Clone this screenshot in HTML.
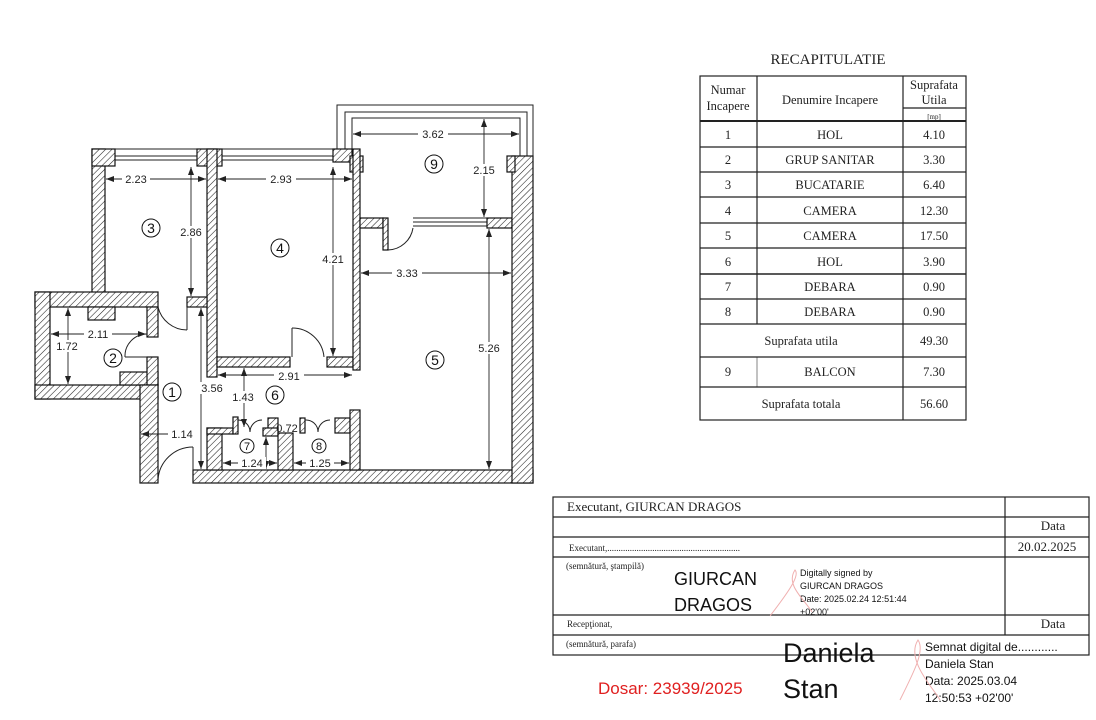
<!DOCTYPE html>
<html><head><meta charset="utf-8"><style>
html,body{margin:0;padding:0;background:#fff;}
svg{display:block;}
.d{font-family:"Liberation Sans",sans-serif;font-size:11px;fill:#222;}
.s{font-family:"Liberation Serif",serif;fill:#222;}
.n{font-family:"Liberation Sans",sans-serif;font-size:14px;fill:#111;}
.ds{font-family:"Liberation Sans",sans-serif;fill:#111;}
</style></head><body>
<svg width="1096" height="720" viewBox="0 0 1096 720" xmlns="http://www.w3.org/2000/svg">
<defs>
<pattern id="h" width="4.5" height="4.5" patternUnits="userSpaceOnUse" patternTransform="rotate(45)">
<rect width="4.5" height="4.5" fill="#fff"/><line x1="0" y1="0" x2="0" y2="4.5" stroke="#222" stroke-width="1.1"/>
</pattern>
<marker id="a" markerWidth="8" markerHeight="6" refX="8" refY="3" orient="auto-start-reverse" markerUnits="userSpaceOnUse"><path d="M0,0 L8,3 L0,6z" fill="#222"/></marker>
</defs>
<rect width="1096" height="720" fill="#fff"/>

<g stroke="#222" stroke-width="1" fill="none">
<line x1="115" y1="149" x2="197" y2="149"/><line x1="115" y1="156" x2="197" y2="156"/><line x1="115" y1="160" x2="197" y2="160"/>
<line x1="222" y1="149" x2="333" y2="149"/><line x1="222" y1="156" x2="333" y2="156"/><line x1="222" y1="160" x2="333" y2="160"/>
<polyline points="337,149 337,105 533,105 533,156"/>
<polyline points="345,149 345,112 527,112 527,156"/>
<polyline points="352,156 352,118 520,118 520,156"/>
<line x1="413" y1="218" x2="487" y2="218"/><line x1="413" y1="222" x2="487" y2="222"/><line x1="413" y1="226" x2="487" y2="226"/>
</g>

<g fill="url(#h)" stroke="#111" stroke-width="1.2">
<rect x="92" y="149" width="13" height="150"/>
<rect x="92" y="149" width="23" height="17"/>
<rect x="197" y="149" width="25" height="17"/>
<rect x="207" y="149" width="10" height="228"/>
<rect x="187" y="297" width="20" height="10"/>
<rect x="35" y="292" width="123" height="15"/>
<rect x="88" y="307" width="27" height="13"/>
<rect x="147" y="307" width="11" height="30"/>
<rect x="35" y="292" width="15" height="107"/>
<rect x="35" y="385" width="123" height="14"/>
<rect x="120" y="372" width="38" height="13"/>
<rect x="147" y="357" width="11" height="28"/>
<rect x="140" y="385" width="18" height="98"/>
<rect x="193" y="470" width="340" height="13"/>
<rect x="217" y="357" width="73" height="10"/>
<rect x="327" y="357" width="26" height="10"/>
<rect x="333" y="149" width="19" height="13"/>
<rect x="350" y="156" width="13" height="16"/>
<rect x="353" y="149" width="7" height="221"/>
<rect x="360" y="218" width="23" height="10"/>
<rect x="383" y="218" width="5" height="32"/>
<rect x="487" y="218" width="25" height="10"/>
<rect x="512" y="156" width="21" height="327"/>
<rect x="507" y="156" width="8" height="16"/>
<rect x="207" y="428" width="15" height="42"/>
<rect x="207" y="428" width="26" height="6"/>
<rect x="233" y="417" width="5" height="17"/>
<rect x="268" y="418" width="10" height="15"/>
<rect x="263" y="428" width="15" height="8"/>
<rect x="278" y="433" width="15" height="37"/>
<rect x="300" y="418" width="5" height="15"/>
<rect x="335" y="418" width="15" height="15"/>
<rect x="350" y="410" width="10" height="60"/>
</g>

<g stroke="#222" stroke-width="1" fill="none">
<line x1="187" y1="307" x2="187" y2="330"/><path d="M187,330 A30,30 0 0 1 158,307"/>
<path d="M147,334 A22,22 0 0 0 125,357"/><line x1="125" y1="357" x2="147" y2="357"/>
<line x1="292" y1="328" x2="292" y2="357"/><path d="M292,328 A32,32 0 0 1 324,357"/>
<line x1="193" y1="447" x2="193" y2="470"/><path d="M193,447 A35,35 0 0 0 158,480"/>
<path d="M388,250 A26,26 0 0 0 413,228"/>
<path d="M238,420 A12,12 0 0 1 250,432 M262,420 A12,12 0 0 0 250,432"/>
<path d="M305,420 A12,12 0 0 1 318,432 M330,420 A12,12 0 0 0 318,432"/>
</g>

<g stroke="#222" stroke-width="0.9" marker-start="url(#a)" marker-end="url(#a)">
<line x1="106" y1="179" x2="206" y2="179"/>
<line x1="218" y1="179" x2="352" y2="179"/>
<line x1="191" y1="167" x2="191" y2="296"/>
<line x1="333" y1="167" x2="333" y2="356"/>
<line x1="353" y1="134" x2="519" y2="134"/>
<line x1="484" y1="119" x2="484" y2="217"/>
<line x1="361" y1="273" x2="511" y2="273"/>
<line x1="489" y1="229" x2="489" y2="469"/>
<line x1="51" y1="334" x2="146" y2="334"/>
<line x1="68" y1="308" x2="68" y2="384"/>
<line x1="218" y1="375" x2="352" y2="375"/>
<line x1="244" y1="368" x2="244" y2="427"/>
<line x1="201" y1="308" x2="201" y2="469"/>
<line x1="141" y1="434" x2="192" y2="434"/>
<line x1="223" y1="463" x2="277" y2="463"/>
<line x1="294" y1="463" x2="349" y2="463"/>
<line x1="266" y1="437" x2="266" y2="469"/>
</g>
<g class="d" text-anchor="middle">
<rect x="122" y="173" width="28" height="12" fill="#fff"/><text x="136" y="183">2.23</text>
<rect x="266" y="173" width="30" height="12" fill="#fff"/><text x="281" y="183">2.93</text>
<rect x="177" y="226" width="28" height="12" fill="#fff"/><text x="191" y="236">2.86</text>
<rect x="319" y="253" width="28" height="12" fill="#fff"/><text x="333" y="263">4.21</text>
<rect x="418" y="128" width="30" height="12" fill="#fff"/><text x="433" y="138">3.62</text>
<rect x="470" y="164" width="28" height="12" fill="#fff"/><text x="484" y="174">2.15</text>
<rect x="392" y="267" width="30" height="12" fill="#fff"/><text x="407" y="277">3.33</text>
<rect x="475" y="342" width="28" height="12" fill="#fff"/><text x="489" y="352">5.26</text>
<rect x="84" y="328" width="28" height="12" fill="#fff"/><text x="98" y="338">2.11</text>
<rect x="54" y="340" width="28" height="12" fill="#fff"/><text x="67" y="350">1.72</text>
<rect x="274" y="370" width="30" height="12" fill="#fff"/><text x="289" y="380">2.91</text>
<rect x="230" y="391" width="28" height="12" fill="#fff"/><text x="243" y="401">1.43</text>
<rect x="198" y="382" width="28" height="12" fill="#fff"/><text x="212" y="392">3.56</text>
<rect x="168" y="428" width="28" height="12" fill="#fff"/><text x="182" y="438">1.14</text>
<text x="287" y="432">0.72</text>
<rect x="238" y="457" width="28" height="12" fill="#fff"/><text x="252" y="467">1.24</text>
<rect x="306" y="457" width="28" height="12" fill="#fff"/><text x="320" y="467">1.25</text>
</g>

<g stroke="#111" stroke-width="1" fill="none">
<circle cx="151" cy="228" r="9"/><circle cx="280" cy="248" r="9"/><circle cx="434" cy="164" r="9"/>
<circle cx="435" cy="360" r="9"/><circle cx="113" cy="358" r="9"/><circle cx="172" cy="392" r="9"/>
<circle cx="275" cy="395" r="9"/><circle cx="247" cy="446" r="7"/><circle cx="319" cy="446" r="7"/>
</g>
<g class="n" text-anchor="middle">
<text x="151" y="233">3</text><text x="280" y="253">4</text><text x="434" y="169">9</text>
<text x="435" y="365">5</text><text x="113" y="363">2</text><text x="172" y="397">1</text>
<text x="275" y="400">6</text><text x="247" y="450" font-size="11">7</text><text x="319" y="450" font-size="11">8</text>
</g>

<text class="s" x="828" y="64" font-size="15" text-anchor="middle">RECAPITULATIE</text>
<g stroke="#222" stroke-width="1.2" fill="none">
<rect x="700" y="76" width="266" height="344"/>
<line x1="757" y1="76" x2="757" y2="324"/><line x1="757" y1="357" x2="757" y2="387" stroke="#999"/>
<line x1="903" y1="76" x2="903" y2="420"/>
<line x1="903" y1="108" x2="966" y2="108"/>
<line x1="700" y1="121" x2="966" y2="121" stroke-width="2"/>
<line x1="700" y1="147" x2="966" y2="147"/><line x1="700" y1="172" x2="966" y2="172"/>
<line x1="700" y1="197" x2="966" y2="197"/><line x1="700" y1="223" x2="966" y2="223"/>
<line x1="700" y1="248" x2="966" y2="248"/><line x1="700" y1="274" x2="966" y2="274" stroke-width="1.6"/>
<line x1="700" y1="299" x2="966" y2="299"/><line x1="700" y1="324" x2="966" y2="324"/>
<line x1="700" y1="357" x2="966" y2="357"/><line x1="700" y1="387" x2="966" y2="387"/>
</g>
<g class="s" font-size="12.5" text-anchor="middle">
<text x="728" y="94">Numar</text><text x="728" y="110">Incapere</text>
<text x="830" y="104">Denumire Incapere</text>
<text x="934" y="89">Suprafata</text><text x="934" y="104">Utila</text>
<text x="934" y="119" font-size="7">[mp]</text>
<text x="728" y="139">1</text><text x="830" y="139">HOL</text><text x="934" y="139">4.10</text>
<text x="728" y="164">2</text><text x="830" y="164">GRUP SANITAR</text><text x="934" y="164">3.30</text>
<text x="728" y="189">3</text><text x="830" y="189">BUCATARIE</text><text x="934" y="189">6.40</text>
<text x="728" y="215">4</text><text x="830" y="215">CAMERA</text><text x="934" y="215">12.30</text>
<text x="728" y="240">5</text><text x="830" y="240">CAMERA</text><text x="934" y="240">17.50</text>
<text x="728" y="266">6</text><text x="830" y="266">HOL</text><text x="934" y="266">3.90</text>
<text x="728" y="291">7</text><text x="830" y="291">DEBARA</text><text x="934" y="291">0.90</text>
<text x="728" y="316">8</text><text x="830" y="316">DEBARA</text><text x="934" y="316">0.90</text>
<text x="801" y="345">Suprafata utila</text><text x="934" y="345">49.30</text>
<text x="728" y="376">9</text><text x="830" y="376">BALCON</text><text x="934" y="376">7.30</text>
<text x="801" y="408">Suprafata totala</text><text x="934" y="408">56.60</text>
</g>

<g stroke="#222" stroke-width="1.2" fill="none">
<rect x="553" y="497" width="536" height="158"/>
<line x1="1005" y1="497" x2="1005" y2="635"/>
<line x1="553" y1="517" x2="1089" y2="517"/><line x1="553" y1="537" x2="1089" y2="537"/>
<line x1="553" y1="557" x2="1089" y2="557"/><line x1="553" y1="615" x2="1089" y2="615"/>
<line x1="553" y1="635" x2="1089" y2="635"/>
</g>
<g class="s">
<text x="567" y="511" font-size="13">Executant, GIURCAN DRAGOS</text>
<text x="1053" y="530" font-size="13" text-anchor="middle">Data</text>
<text x="569" y="551" font-size="9">Executant,...........................................................</text>
<text x="1047" y="551" font-size="13" text-anchor="middle">20.02.2025</text>
<text x="566" y="569" font-size="9">(semnătură, ştampilă)</text>
<text x="567" y="627" font-size="9">Recepţionat,</text>
<text x="1053" y="628" font-size="13" text-anchor="middle">Data</text>
<text x="566" y="647" font-size="9">(semnătură, parafa)</text>
</g>
<g class="ds">
<text x="674" y="585" font-size="18">GIURCAN</text>
<text x="674" y="611" font-size="18">DRAGOS</text>
<text x="800" y="576" font-size="9">Digitally signed by</text>
<text x="800" y="589" font-size="9">GIURCAN DRAGOS</text>
<text x="800" y="602" font-size="9">Date: 2025.02.24 12:51:44</text>
<text x="800" y="615" font-size="9">+02'00'</text>
<text x="783" y="662" font-size="27">Daniela</text>
<text x="783" y="698" font-size="27">Stan</text>
<text x="925" y="651" font-size="12">Semnat digital de............</text>
<text x="925" y="668" font-size="12">Daniela Stan</text>
<text x="925" y="685" font-size="12">Data: 2025.03.04</text>
<text x="925" y="702" font-size="12">12:50:53 +02'00'</text>
<text x="598" y="694" font-size="17" style="fill:#e02020">Dosar: 23939/2025</text>
</g>
<g stroke="#f0b0b0" stroke-width="1" fill="none">
<path d="M770,616 C790,590 800,575 795,570 C785,585 805,600 812,612"/>
<path d="M900,700 C915,670 925,650 918,640 C905,660 935,690 940,700"/>
</g>
</svg>
</body></html>
